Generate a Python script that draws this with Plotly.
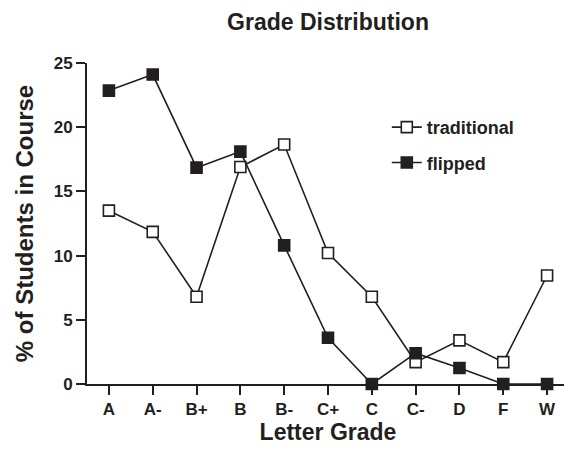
import plotly.graph_objects as go

grades = ["A", "A-", "B+", "B", "B-", "C+", "C", "C-", "D", "F", "W"]
traditional = [13.5, 11.85, 6.8, 16.9, 18.65, 10.2, 6.8, 1.7, 3.4, 1.7, 8.45]
flipped = [22.85, 24.1, 16.85, 18.1, 10.8, 3.6, 0.0, 2.4, 1.25, 0.0, 0.0]

ink = "#231f20"
font_family = "Liberation Sans, Arial, sans-serif"

fig = go.Figure()
fig.add_trace(go.Scatter(
    x=grades, y=traditional, name="traditional", mode="lines+markers",
    legendgroup="t",
    line=dict(color=ink, width=1.6),
    marker=dict(symbol="square", size=11, color="white", line=dict(color=ink, width=1.6)),
    cliponaxis=False,
))
fig.add_trace(go.Scatter(
    x=grades, y=flipped, name="flipped", mode="lines+markers",
    legendgroup="f",
    line=dict(color=ink, width=1.6),
    marker=dict(symbol="square", size=11, color=ink, line=dict(color=ink, width=1.6)),
    cliponaxis=False,
))

fig.update_layout(
    width=564, height=442,
    margin=dict(l=79, r=3, t=55, b=66, autoexpand=False),
    paper_bgcolor="white", plot_bgcolor="white",
    font=dict(family=font_family, color=ink, size=16),
    title=dict(text="Grade Distribution", x=0.5, xref="paper", xanchor="center",
               y=0.968, yref="container", yanchor="middle",
               font=dict(size=23, color=ink, weight="bold")),
    showlegend=True,
    legend=dict(x=0.622, y=0.857, xanchor="left", yanchor="top",
                font=dict(size=18, color=ink, weight="bold"), bgcolor="rgba(0,0,0,0)",
                tracegroupgap=9, itemwidth=30),
    xaxis=dict(
        type="category", range=[-0.5, 10.5], automargin=False,
        showline=True, linecolor=ink, linewidth=2,
        ticks="outside", ticklen=9, tickwidth=2, tickcolor=ink,
        showgrid=False, zeroline=False,
        tickfont=dict(size=17, color=ink, family=font_family, weight="bold"),
        title=dict(text="Letter Grade", font=dict(size=23, color=ink, weight="bold"), standoff=5),
    ),
    yaxis=dict(
        range=[0, 25], tickvals=[0, 5, 10, 15, 20, 25], automargin=False,
        showline=True, linecolor=ink, linewidth=2,
        ticks="outside", ticklen=9, tickwidth=2, tickcolor=ink,
        showgrid=False, zeroline=False,
        tickfont=dict(size=17, color=ink, family=font_family, weight="bold"),
        title=dict(text="% of Students in Course", font=dict(size=24, color=ink, weight="bold"), standoff=13),
    ),
)

fig.write_html("out.html")
